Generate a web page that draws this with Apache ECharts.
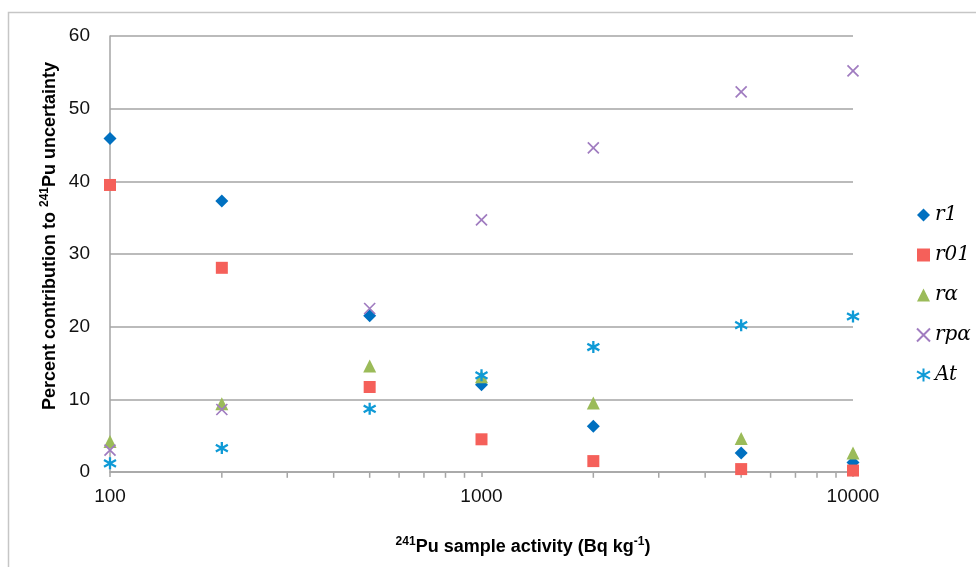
<!DOCTYPE html>
<html>
<head>
<meta charset="utf-8">
<script src="https://cdn.jsdelivr.net/npm/echarts@6/dist/echarts.min.js"></script>
<style>
  html, body { margin: 0; padding: 0; background: #fff; }
  #chart { width: 976px; height: 567px; }
</style>
</head>
<body>
<div id="chart"></div>
<script>
// sample activities (Bq/kg)
var activity = [100, 200, 500, 1000, 2000, 5000, 10000];
// percent contributions
var r1  = [45.9, 37.3, 21.5, 12.0, 6.3, 2.6, 1.3];
var r01 = [39.5, 28.1, 11.7, 4.5, 1.5, 0.4, 0.2];
var ra  = [4.2, 9.4, 14.6, 13.1, 9.5, 4.6, 2.6];
var rpa = [3.0, 8.6, 22.5, 34.7, 44.6, 52.3, 55.2];
var at  = [1.2, 3.3, 8.7, 13.3, 17.2, 20.2, 21.4];
// minor tick positions on the log axis
var minorTicks = [200, 300, 400, 500, 600, 700, 800, 900,
                  2000, 3000, 4000, 5000, 6000, 7000, 8000, 9000];

function pairs(ys) {
  return activity.map(function (x, i) { return [x, ys[i]]; });
}

var chart = echarts.init(document.getElementById('chart'));

var crossPath = 'path://M0,0L10,10M10,0L0,10';
var starPath = 'path://M5,0L5,10M0,2.2L10,7.8M0,7.8L10,2.2';

var bold = { fontFamily: 'Liberation Sans', fontWeight: 'bold', fontSize: 18, color: '#000', lineHeight: 22 };
var sup = { fontFamily: 'Liberation Sans', fontWeight: 'bold', fontSize: 12, color: '#000', verticalAlign: 'top', lineHeight: 22 };

chart.setOption({
  animation: false,
  grid: { left: 110, right: 123, top: 36, bottom: 95 },
  legend: {
    orient: 'vertical',
    left: 911,
    top: 200,
    itemWidth: 13,
    itemHeight: 13,
    itemGap: 20,
    textStyle: { fontFamily: 'DejaVu Serif', fontStyle: 'italic', fontSize: 20, color: '#000' },
    data: ['r1', 'r01', 'rα', 'rpα', 'At']
  },
  xAxis: {
    type: 'log',
    logBase: 10,
    min: 100,
    max: 10000,
    axisLine: { lineStyle: { color: '#a5a5a5', width: 1.5 } },
    axisTick: { length: 5, lineStyle: { color: '#a5a5a5', width: 1.5 } },
    axisLabel: {
      margin: 15,
      fontFamily: 'Liberation Sans',
      fontSize: 19,
      color: '#111',
      formatter: function (v) { return String(Math.round(v)); }
    },
    splitLine: { show: false }
  },
  yAxis: {
    type: 'value',
    min: 0,
    max: 60,
    interval: 10,
    axisLine: { show: true, lineStyle: { color: '#a5a5a5', width: 1.5 } },
    axisTick: { show: false },
    axisLabel: { margin: 20, fontFamily: 'Liberation Sans', fontSize: 19, color: '#111' },
    splitLine: { lineStyle: { color: '#a5a5a5', width: 1.5 } }
  },
  graphic: [
    {
      type: 'rect',
      silent: true,
      shape: { x: 8.5, y: 12.5, width: 1000, height: 600 },
      style: { fill: 'none', stroke: '#c6c6c6', lineWidth: 1.5 }
    },
    {
      type: 'text',
      x: 50,
      y: 236,
      rotation: Math.PI / 2,
      style: {
        text: '{b|Percent contribution to }{s|241}{b|Pu uncertainty}',
        align: 'center',
        verticalAlign: 'middle',
        rich: { b: bold, s: sup }
      }
    },
    {
      type: 'text',
      x: 523,
      y: 547,
      style: {
        text: '{s|241}{b|Pu sample activity (Bq kg}{s|-1}{b|)}',
        align: 'center',
        verticalAlign: 'middle',
        rich: { b: bold, s: sup }
      }
    }
  ],
  series: [
    {
      name: 'minor',
      type: 'scatter',
      silent: true,
      clip: false,
      symbol: 'rect',
      symbolSize: [1.5, 5],
      symbolOffset: [0, 3.3],
      itemStyle: { color: '#a5a5a5', opacity: 1 },
      data: minorTicks.map(function (x) { return [x, 0]; }),
      z: 1
    },
    {
      name: 'r1', type: 'scatter', clip: false,
      symbol: 'diamond', symbolSize: 13,
      itemStyle: { color: '#0070c0', opacity: 1 },
      data: pairs(r1)
    },
    {
      name: 'r01', type: 'scatter', clip: false,
      symbol: 'rect', symbolSize: 12,
      itemStyle: { color: '#f5605a', opacity: 1 },
      data: pairs(r01)
    },
    {
      name: 'rα', type: 'scatter', clip: false,
      symbol: 'triangle', symbolSize: 13,
      itemStyle: { color: '#9bbb59', opacity: 1 },
      data: pairs(ra)
    },
    {
      name: 'rpα', type: 'scatter', clip: false,
      symbol: crossPath, symbolSize: 11,
      itemStyle: { color: '#a07cc0', borderColor: '#a07cc0', borderWidth: 1.7, opacity: 1 },
      data: pairs(rpa)
    },
    {
      name: 'At', type: 'scatter', clip: false,
      symbol: starPath, symbolSize: 12,
      itemStyle: { color: '#0f9ad6', borderColor: '#0f9ad6', borderWidth: 2.3, opacity: 1 },
      data: pairs(at)
    }
  ]
});
</script>
</body>
</html>
